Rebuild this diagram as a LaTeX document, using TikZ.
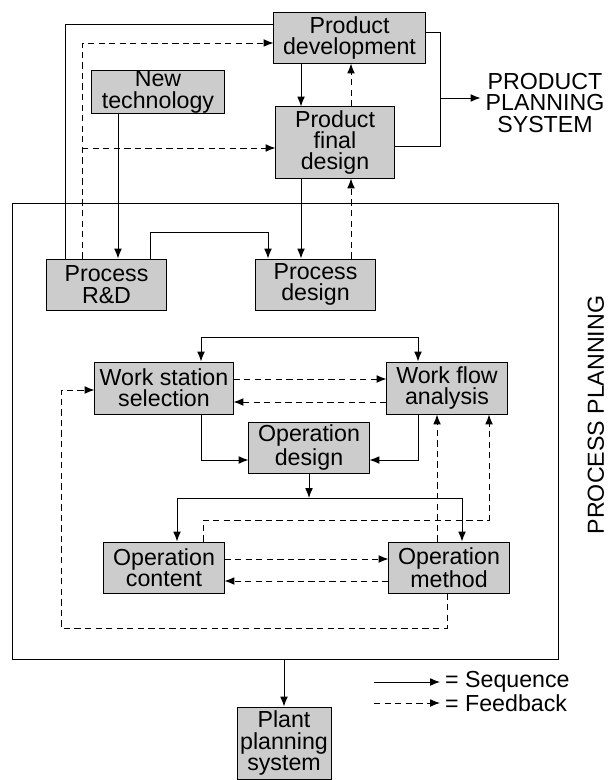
\documentclass[tikz,border=0pt]{standalone}
\usepackage{fontspec}
\setmainfont{Liberation Sans}
\usetikzlibrary{arrows.meta}

\begin{document}
\begin{tikzpicture}[x=0.025cm, y=-0.025cm, line width=0.7pt,
    blk/.style={draw, fill=black!20, align=center, inner sep=0pt, font=\fontsize{16.5}{15.2}\selectfont},
    lbl/.style={align=center, font=\fontsize{16.5}{15.2}\selectfont},
    seq/.style={-{Latex[length=7pt,width=5.5pt]}},
    seqboth/.style={{Latex[length=7pt,width=5.5pt]}-{Latex[length=7pt,width=5.5pt]}},
    fb/.style={-{Latex[length=7pt,width=5.5pt]}, dash pattern=on 4.5pt off 3pt}]
    \useasboundingbox (0,0) rectangle (610,780);

    % product planning part
    \node[blk, minimum width=3.775cm, minimum height=1.25cm] (pdev) at (349.5,38) {Product\\development};
    \node[blk, minimum width=3.3cm, minimum height=1.05cm] (ntech) at (158,92) {New\\technology};
    \node[blk, minimum width=2.95cm, minimum height=1.775cm] (pfinal) at (335,142.5) {Product\\final\\design};
    \node[lbl] (pps) at (545,103) {PRODUCT\\PLANNING\\SYSTEM};

    % process planning part
    \node[draw, minimum width=13.625cm, minimum height=11.375cm, inner sep=0pt] (pp) at (285.5,431.5) {};
    \node[lbl, rotate=90] (ppl) at (596,415) {PROCESS PLANNING};
    \node[blk, minimum width=2.975cm, minimum height=1.275cm] (prd) at (106.5,284.5) {Process\\R\&D};
    \node[blk, minimum width=2.975cm, minimum height=1.275cm] (pdes) at (315.5,284.5) {Process\\design};
    \node[blk, minimum width=3.45cm, minimum height=1.3cm] (wss) at (164,388) {Work station\\selection};
    \node[blk, minimum width=3cm, minimum height=1.3cm] (wfa) at (447,388) {Work flow\\analysis};
    \node[blk, minimum width=3cm, minimum height=1.275cm] (odes) at (309,447.5) {Operation\\design};
    \node[blk, minimum width=3cm, minimum height=1.275cm] (ocon) at (164,567.5) {Operation\\content};
    \node[blk, minimum width=3cm, minimum height=1.275cm] (ometh) at (449,567.5) {Operation\\method};
    \node[blk, minimum width=2.35cm, minimum height=1.8cm] (plant) at (284,743) {Plant\\planning\\system};

    % bends
    \coordinate (a) at (65,24);
    \coordinate (b) at (82,43);
    \coordinate (b2) at (82,148);
    \coordinate (c) at (118,0);
    \coordinate (d) at (301,0);
    \coordinate (e) at (351,0);
    \coordinate (f) at (440,98);
    \coordinate (f1) at (440,32);
    \coordinate (f2) at (440,146);
    \coordinate (g) at (150,232);
    \coordinate (g2) at (268,232);
    \coordinate (h) at (201,337);
    \coordinate (h2) at (418,337);
    \coordinate (i) at (0,379);
    \coordinate (i2) at (0,402);
    \coordinate (j) at (201,460);
    \coordinate (j2) at (418,460);
    \coordinate (k) at (177,498);
    \coordinate (k2) at (462,498);
    \coordinate (l) at (203,520);
    \coordinate (l2) at (489,520);
    \coordinate (m) at (437,0);
    \coordinate (n) at (0,559);
    \coordinate (n2) at (0,581);
    \coordinate (o) at (447,628);
    \coordinate (o2) at (61,628);
    \coordinate (o3) at (61,390);

    % connectors
    \draw (a |- prd.north) -- (a) -- (a -| pdev.west);
    \draw[fb] (b |- prd.north) -- (b) -- (b -| pdev.west);
    \draw[fb] (b2) -- (b2 -| pfinal.west);
    \draw[seq] (c |- ntech.south) -- (c |- prd.north);
    \draw[seq] (d |- pdev.south) -- (d |- pfinal.north);
    \draw[fb] (e |- pfinal.north) -- (e |- pdev.south);
    \draw (f1 -| pdev.east) -- (f1) -- (f2) -- (f2 -| pfinal.east);
    \draw[seq] (f) -- (f -| pps.west);
    \draw[seq] (d |- pfinal.south) -- (d |- pdes.north);
    \draw[fb] (e |- pdes.north) -- (e |- pfinal.south);
    \draw[seq] (g |- prd.north) -- (g) -- (g2) -- (g2 |- pdes.north);
    \draw[seqboth] (h |- wss.north) -- (h) -- (h2) -- (h2 |- wfa.north);
    \draw[fb] (i -| wss.east) -- (i -| wfa.west);
    \draw[fb] (i2 -| wfa.west) -- (i2 -| wss.east);
    \draw[seq] (j |- wss.south) -- (j) -- (j -| odes.west);
    \draw[seq] (j2 |- wfa.south) -- (j2) -- (j2 -| odes.east);
    \draw[seq] (odes.south) -- (odes.south |- k);
    \draw[seqboth] (k |- ocon.north) -- (k) -- (k2) -- (k2 |- ometh.north);
    \draw[fb] (l |- ocon.north) -- (l) -- (l2) -- (l2 |- wfa.south);
    \draw[fb] (m |- ometh.north) -- (m |- wfa.south);
    \draw[fb] (n -| ocon.east) -- (n -| ometh.west);
    \draw[fb] (n2 -| ometh.west) -- (n2 -| ocon.east);
    \draw[fb] (o |- ometh.south) -- (o) -- (o2) -- (o3) -- (o3 -| wss.west);
    \draw[seq] (pp.south -| plant.north) -- (plant.north);

    % legend
    \node[lbl, anchor=west] (lseq) at (440,682) {= Sequence};
    \node[lbl, anchor=west] (lfb) at (440,703) {= Feedback};
    \coordinate (ls) at (374,682);
    \coordinate (lf) at (374,703);
    \draw[seq] (ls) -- (lseq.west);
    \draw[fb] (lf) -- (lfb.west);
\end{tikzpicture}
\end{document}
